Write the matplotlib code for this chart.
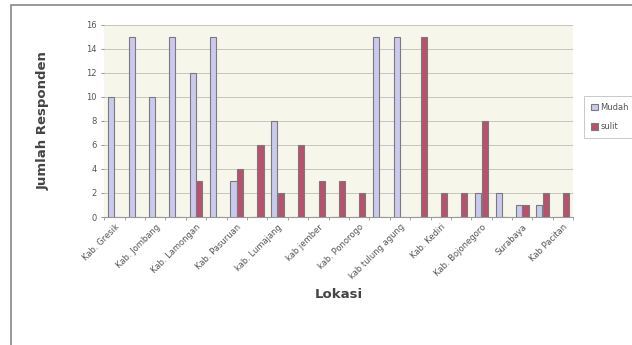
import numpy as np
import matplotlib
matplotlib.use("Agg")
import matplotlib.pyplot as plt
from matplotlib.patches import Rectangle

# 23 lokasi, only every other one carries a label in the original
label_idx = [0, 2, 4, 6, 8, 10, 12, 14, 16, 18, 20, 22]
labels = ["Kab. Gresik", "Kab. Jombang", "Kab. Lamongan", "Kab. Pasuruan",
          "kab. Lumajang", "kab jember", "kab. Ponorogo", "kab tulung agung",
          "Kab. Kediri", "Kab. Bojonegoro", "Surabaya", "Kab Pacitan"]
mudah = [10, 15, 10, 15, 12, 15, 3, 0, 8, 0, 0, 0, 0, 15, 15, 0, 0, 0, 2, 2, 1, 1, 0]
sulit = [0, 0, 0, 0, 3, 0, 4, 6, 2, 6, 3, 3, 2, 0, 0, 15, 2, 2, 8, 0, 1, 2, 2]

def main():
    fig = plt.figure(figsize=(6.32, 3.45), dpi=100)
    ax = fig.add_axes([0.165, 0.371, 0.742, 0.557])
    x = np.arange(len(mudah))
    w = 0.3
    ax.set_facecolor("#f6f6ea")
    ax.bar(x - 0.16, mudah, w, color="#cacaf0", edgecolor="#7a7a7a",
           linewidth=0.8, label="Mudah", zorder=3)
    ax.bar(x + 0.16, sulit, w, color="#b9506e", edgecolor="#7a7a7a",
           linewidth=0.8, label="sulit", zorder=3)
    ax.set_xlim(-0.5, len(mudah) - 0.5)
    ax.set_ylim(0, 16)
    ax.set_yticks(range(0, 17, 2))
    ax.yaxis.grid(True, color="#bdbdb5", linewidth=0.6, zorder=0)
    ax.set_xticks(label_idx)
    ax.set_xticklabels(labels, rotation=45, ha="right", rotation_mode="anchor",
                       fontsize=6, color="#555555")
    ax.set_xticks(np.arange(-0.5, len(mudah)), minor=True)
    ax.tick_params(axis="x", which="major", length=0, pad=4)
    ax.tick_params(axis="x", which="minor", length=2, color="#999999")
    ax.tick_params(axis="y", length=2, labelsize=6, labelcolor="#555555", color="#999999")
    for s in ["top", "right", "left"]:
        ax.spines[s].set_visible(False)
    ax.spines["bottom"].set_color("#999999")
    ax.set_ylabel("Jumlah Responden", fontsize=9.5, fontweight="bold",
                  color="#444444", labelpad=26)
    ax.set_xlabel("Lokasi", fontsize=9.5, fontweight="bold", color="#444444",
                  labelpad=5)
    leg = ax.legend(loc="center left", bbox_to_anchor=(1.015, 0.52), fontsize=6,
                    frameon=True, fancybox=False, borderpad=0.8,
                    handlelength=0.8, handleheight=0.8, handletextpad=0.3,
                    labelspacing=1.3)
    leg.get_frame().set_edgecolor("#bbbbbb")
    leg.get_frame().set_linewidth(0.7)
    for t in leg.get_texts():
        t.set_color("#555555")
    # outer chart frame, cut off on the right and bottom as in the scan
    fig.patches.append(Rectangle((0.017, -0.05), 1.1, 1.035, transform=fig.transFigure,
                                 fill=False, edgecolor="#888888", linewidth=1.2))
    fig.savefig("out.png", dpi=100)

if __name__ == "__main__":
    main()
